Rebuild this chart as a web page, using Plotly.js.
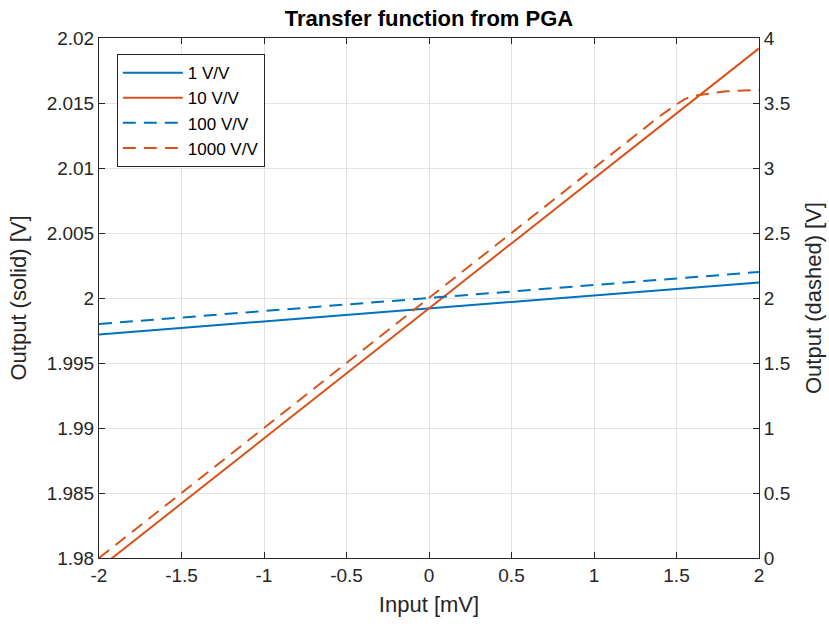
<!DOCTYPE html>
<html>
<head>
<meta charset="utf-8">
<script src="https://cdn.plot.ly/plotly-3.0.1.min.js"></script>
<style>html,body{margin:0;padding:0;background:#fff;}#chart{width:829px;height:624px;}</style>
</head>
<body>
<div id="chart"></div>
<script>
// Data
const xLinear = [-2, -1.5, -1, -0.5, 0, 0.5, 1, 1.5, 2];
const gain1 = [1.9972, 1.9977, 1.9982, 1.9987, 1.9992, 1.9997, 2.0002, 2.0007, 2.0012];
const gain10 = [1.9792, 1.9842, 1.9892, 1.9942, 1.9992, 2.0042, 2.0092, 2.0142, 2.0192];
const gain100 = [1.8, 1.85, 1.9, 1.95, 2.0, 2.05, 2.1, 2.15, 2.2];
const xSat = [-2, -1.5, -1, -0.5, 0, 0.5, 1, 1.4, 1.5, 1.55, 1.6, 1.7, 1.8, 2];
const gain1000 = [0, 0.5, 1.0, 1.5, 2.0, 2.5, 3.0, 3.4, 3.49, 3.53, 3.555, 3.575, 3.59, 3.6];

const xTicks = [-2, -1.5, -1, -0.5, 0, 0.5, 1, 1.5, 2];
const xTickText = ["-2", "-1.5", "-1", "-0.5", "0", "0.5", "1", "1.5", "2"];
const yLeftTicks = [1.98, 1.985, 1.99, 1.995, 2, 2.005, 2.01, 2.015, 2.02];
const yLeftText = ["1.98", "1.985", "1.99", "1.995", "2", "2.005", "2.01", "2.015", "2.02"];
const yRightTicks = [0, 0.5, 1, 1.5, 2, 2.5, 3, 3.5, 4];
const yRightText = ["0", "0.5", "1", "1.5", "2", "2.5", "3", "3.5", "4"];

const blue = "#0072BD", orange = "#D95319";
const dashPat = "13px,8px";

const traces = [
  {x: xLinear, y: gain1, name: "1 V/V", mode: "lines", line: {color: blue, width: 2}, yaxis: "y"},
  {x: xLinear, y: gain10, name: "10 V/V", mode: "lines", line: {color: orange, width: 2}, yaxis: "y"},
  {x: xLinear, y: gain100, name: "100 V/V", mode: "lines", line: {color: blue, width: 2, dash: dashPat}, yaxis: "y2"},
  {x: xSat, y: gain1000, name: "1000 V/V", mode: "lines", line: {color: orange, width: 2, dash: dashPat}, yaxis: "y2"}
];

const axCol = "#262626";
const fam = "Liberation Sans, Arial, sans-serif";
const tickSize = 19, axTitleSize = 22;

const layout = {
  width: 829, height: 624,
  margin: {l: 99, r: 70, t: 38, b: 66},
  paper_bgcolor: "#fff", plot_bgcolor: "#fff",
  font: {family: fam, size: tickSize, color: axCol},
  showlegend: true,
  title: {text: "<b>Transfer function from PGA</b>", font: {family: fam, size: 22, color: "#000"}, x: 0.5, xref: "paper", xanchor: "center", y: 0.971, yanchor: "middle"},
  xaxis: {
    range: [-2, 2], tickvals: xTicks, ticktext: xTickText,
    showgrid: true, gridcolor: "#e3e3e3", gridwidth: 1,
    showline: true, linecolor: axCol, linewidth: 1, mirror: "ticks",
    ticks: "inside", ticklen: 6, tickcolor: axCol,
    zeroline: false, tickfont: {size: tickSize, color: axCol},
    title: {text: "Input [mV]", font: {size: axTitleSize, color: axCol}, standoff: 11}
  },
  yaxis: {
    range: [1.98, 2.02], tickvals: yLeftTicks, ticktext: yLeftText,
    showgrid: true, gridcolor: "#e3e3e3", gridwidth: 1,
    showline: true, linecolor: axCol, linewidth: 1, mirror: "ticks",
    ticks: "inside", ticklen: 6, tickcolor: axCol,
    zeroline: false, tickfont: {size: tickSize, color: axCol},
    title: {text: "Output (solid) [V]", font: {size: axTitleSize, color: axCol}, standoff: 13}
  },
  yaxis2: {
    range: [0, 4], tickvals: yRightTicks, ticktext: yRightText,
    overlaying: "y", side: "right",
    showgrid: false, showline: true, linecolor: axCol, linewidth: 1,
    ticks: "inside", ticklen: 6, tickcolor: axCol,
    zeroline: false, tickfont: {size: tickSize, color: axCol},
    title: {text: "Output (dashed) [V]", font: {size: axTitleSize, color: axCol}, standoff: 16}
  },
  legend: {
    x: 0.027, y: 0.969, xanchor: "left", yanchor: "top",
    bgcolor: "#fff", bordercolor: axCol, borderwidth: 1,
    font: {size: 17, color: "#000"}, itemwidth: 60, tracegroupgap: 0
  }
};

Plotly.newPlot("chart", traces, layout, {displayModeBar: false, staticPlot: true});
</script>
</body>
</html>
